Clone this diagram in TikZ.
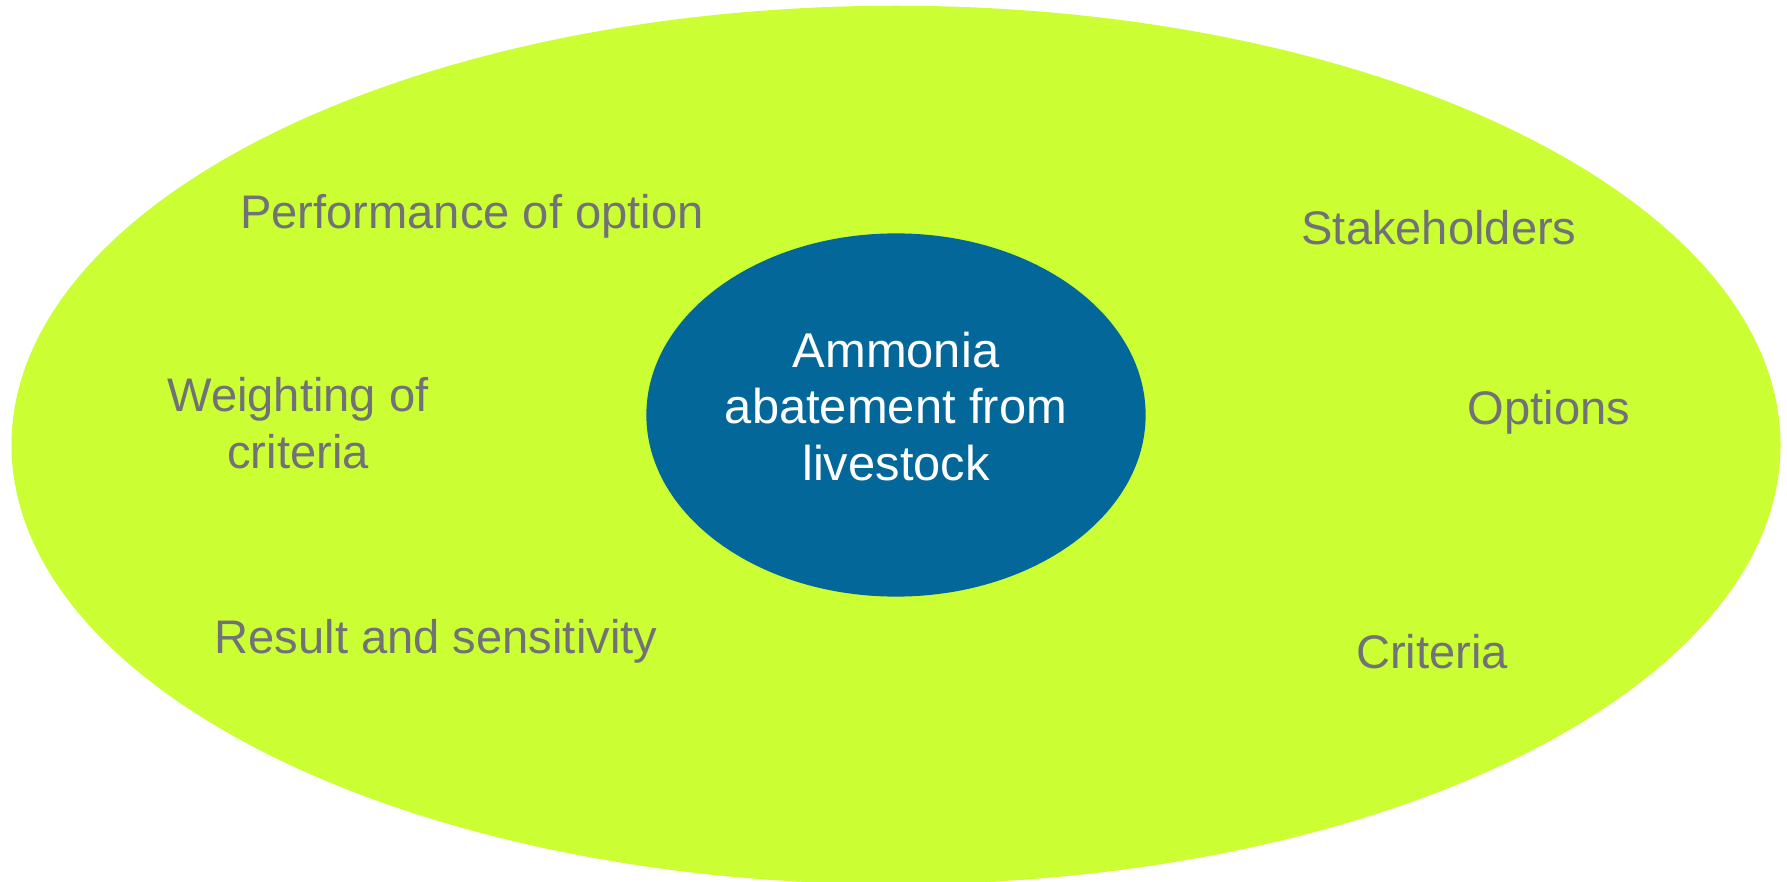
\documentclass[tikz,border=0pt]{standalone}
\usepackage{fontspec}
\setmainfont{Liberation Sans}
\usetikzlibrary{shapes.geometric}
\definecolor{limefill}{HTML}{CCFF33}
\definecolor{coreblue}{HTML}{036899}
\definecolor{labelgrey}{RGB}{112,114,120}
\tikzset{
  topic/.style={text=labelgrey,font=\fontsize{13.4pt}{16.1pt}\selectfont,align=center,inner sep=0pt},
}
\begin{document}
\begin{tikzpicture}[x=0.01cm,y=-0.01cm]
  \useasboundingbox (0,0) rectangle (1787,882);
  % Define ellipses
  \node (field) [ellipse,fill=limefill,inner sep=0pt,minimum width=17.68cm,minimum height=8.78cm] at (896,445) {};
  \node (core) [ellipse,fill=coreblue,text=white,align=center,inner sep=0pt,text depth=0.18cm,
    minimum width=4.99cm,minimum height=3.63cm,font=\fontsize{13.9pt}{16.1pt}\selectfont] at (896,415)
    {Ammonia\\abatement from\\livestock};

  % Define topics
  \node (performance) [topic,anchor=base] at (472,229) {Performance of option};
  \node (stakeholders) [topic,anchor=base] at (1439,245) {Stakeholders};
  \node (weighting) [topic] at (298,423) {Weighting of\\criteria};
  \node (options) [topic,anchor=base] at (1549,425) {Options};
  \node (result) [topic,anchor=base] at (436,653) {Result and sensitivity};
  \node (criteria) [topic,anchor=base] at (1432,668) {Criteria};
\end{tikzpicture}
\end{document}
